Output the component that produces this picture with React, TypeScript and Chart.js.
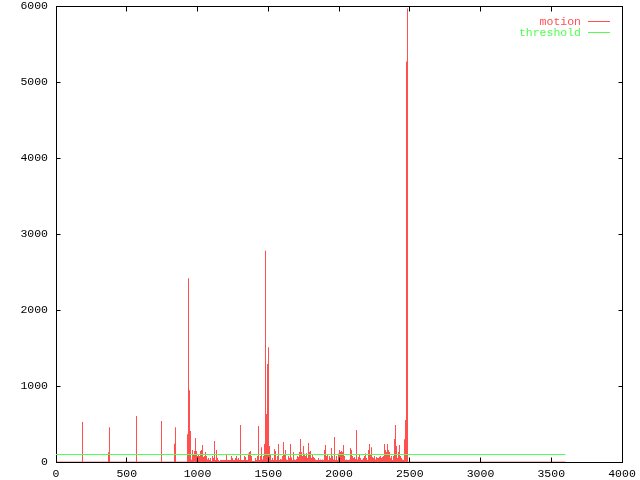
import React, { useEffect, useRef } from "react";
import { Chart, registerables } from "chart.js";

Chart.register(...registerables);

// ---- data ----
const frames = [
  187, 371, 378, 569, 746, 837, 845,
  929, 936, 943, 951, 958, 965, 972, 979, 986, 993,
  1000, 1007, 1014, 1021, 1028, 1035, 1042, 1049, 1057, 1064,
  1071, 1078, 1085, 1092, 1099, 1106, 1113, 1120, 1127, 1134,
  1141, 1148, 1155, 1163, 1170, 1177, 1184, 1191, 1198, 1205,
  1212, 1219, 1226, 1233, 1240, 1247, 1254, 1261, 1269, 1276,
  1283, 1290, 1297, 1304, 1311, 1318, 1325, 1332, 1339, 1346,
  1353, 1360, 1367, 1375, 1382, 1389, 1396, 1403, 1410, 1417,
  1424, 1431, 1438, 1445, 1452, 1459, 1466, 1473, 1481, 1488,
  1495, 1502, 1509, 1516, 1523, 1530, 1537, 1544, 1551, 1558,
  1565, 1572, 1579, 1587, 1594, 1601, 1608, 1615, 1622, 1629,
  1636, 1643, 1650, 1657, 1664, 1671, 1678, 1686, 1693, 1700,
  1707, 1714, 1721, 1728, 1735, 1742, 1749, 1756, 1763, 1770,
  1777, 1784, 1792, 1799, 1806, 1813, 1820, 1827, 1834, 1841,
  1848, 1855, 1862, 1869, 1876, 1883, 1890, 1898, 1905, 1912,
  1919, 1926, 1933, 1940, 1947, 1954, 1961, 1968, 1975, 1982,
  1989, 1996, 2004, 2011, 2018, 2025, 2032, 2039, 2046, 2053,
  2060, 2067, 2074, 2081, 2088, 2095, 2102, 2110, 2117, 2124,
  2131, 2138, 2145, 2152, 2159, 2166, 2173, 2180, 2187, 2194,
  2201, 2208, 2216, 2223, 2230, 2237, 2244, 2251, 2258, 2265,
  2272, 2279, 2286, 2293, 2300, 2307, 2314, 2322, 2329, 2336,
  2343, 2350, 2357, 2364, 2371, 2378, 2385, 2392, 2399, 2406,
  2413, 2420, 2428, 2435, 2442, 2449, 2456, 2463, 2470, 2477,
  2484,
];

const motion = [
  526, 130, 460, 605, 540, 240, 460,
  368, 2420, 947, 408, 30, 158, 92, 145, 316, 145,
  79, 92, 79, 145, 158, 224, 66, 79, 132, 79,
  35, 53, 26, 53, 13, 79, 53, 276, 26, 158,
  53, 26, 13, 26, 26, 26, 26, 26, 26, 92,
  26, 26, 26, 26, 79, 53, 26, 26, 53, 79,
  35, 53, 26, 487, 26, 26, 26, 79, 66, 26,
  26, 114, 132, 145, 79, 13, 13, 13, 53, 26,
  79, 474, 26, 79, 197, 35, 79, 237, 2780, 632,
  1290, 1510, 211, 92, 26, 53, 26, 171, 145, 26,
  79, 237, 26, 40, 35, 79, 263, 92, 158, 35,
  26, 79, 53, 237, 60, 26, 132, 35, 26, 40,
  79, 66, 132, 303, 132, 79, 211, 110, 79, 118,
  53, 250, 132, 145, 53, 92, 66, 53, 35, 26,
  26, 53, 26, 35, 26, 35, 26, 158, 224, 79,
  92, 26, 79, 53, 184, 79, 35, 329, 26, 79,
  26, 112, 158, 132, 145, 132, 224, 79, 26, 35,
  26, 26, 35, 184, 158, 79, 53, 66, 40, 421,
  35, 66, 92, 53, 26, 35, 53, 79, 114, 53,
  26, 158, 237, 92, 197, 66, 53, 79, 35, 66,
  53, 53, 70, 79, 53, 66, 79, 237, 158, 132,
  237, 158, 132, 53, 79, 26, 79, 303, 487, 211,
  53, 132, 224, 79, 53, 35, 26, 300, 553, 5270,
  5970,
];

const frameSpan = [0, 3600];
const thresholdLevel = 100;
const xTicks = [0, 500, 1000, 1500, 2000, 2500, 3000, 3500, 4000];
const yTicks = [0, 1000, 2000, 3000, 4000, 5000, 6000];
const seriesNames = ["motion", "threshold"];

const RED = "#ff5050";
const GREEN = "#50ff50";
const FONT = "'Liberation Mono', 'DejaVu Sans Mono', monospace";
const FONT_SIZE = 11.5;

const gnuplotFrame = {
  id: "gnuplotFrame",
  afterDatasetsUpdate(chart: any) {
    // snap 1px impulses onto the pixel grid so they render crisp like gnuplot
    chart.getSortedVisibleDatasetMetas().forEach((meta: any) => {
      if (meta.type !== "bar") return;
      meta.data.forEach((el: any) => {
        el.x = Math.floor(el.x) + 0.5;
      });
    });
  },
  beforeDatasetsDraw(chart: any) {
    const { ctx, chartArea } = chart;
    const l = Math.floor(chartArea.left) + 0.5;
    const r = Math.floor(chartArea.right) + 0.5;
    const t = Math.floor(chartArea.top) + 0.5;
    const b = Math.floor(chartArea.bottom) + 0.5;
    ctx.save();
    ctx.strokeStyle = "#000";
    ctx.lineWidth = 1;
    ctx.strokeRect(l, t, r - l, b - t);
    ctx.restore();
  },
  afterDatasetsDraw(chart: any) {
    const { ctx, chartArea, scales } = chart;
    const l = Math.floor(chartArea.left) + 0.5;
    const r = Math.floor(chartArea.right) + 0.5;
    const t = Math.floor(chartArea.top) + 0.5;
    const b = Math.floor(chartArea.bottom) + 0.5;
    ctx.save();
    ctx.strokeStyle = "#000";
    ctx.lineWidth = 1;
    ctx.beginPath();
    xTicks.forEach((v) => {
      const px = Math.round(scales.x.getPixelForValue(v) - 0.5) + 0.5;
      ctx.moveTo(px, b);
      ctx.lineTo(px, b - 5);
      ctx.moveTo(px, t);
      ctx.lineTo(px, t + 5);
    });
    yTicks.forEach((v) => {
      if (v === 0) return;
      const py = Math.floor(scales.y.getPixelForValue(v)) + 0.5;
      ctx.moveTo(l, py);
      ctx.lineTo(l + 4, py);
      ctx.moveTo(r, py);
      ctx.lineTo(r - 4, py);
    });
    ctx.stroke();
    ctx.restore();
  },
  afterDraw(chart: any) {
    const { ctx, chartArea } = chart;
    const colors = [RED, GREEN];
    ctx.save();
    ctx.font = `${FONT_SIZE}px ${FONT}`;
    ctx.textAlign = "right";
    ctx.textBaseline = "middle";
    seriesNames.forEach((name, i) => {
      const y = chartArea.top + 15.4 + i * 11;
      ctx.fillStyle = colors[i];
      ctx.fillText(name, chartArea.right - 41, y + 0.5);
      ctx.strokeStyle = colors[i];
      ctx.lineWidth = 1;
      ctx.beginPath();
      ctx.moveTo(chartArea.right - 34, Math.floor(y) + 0.5);
      ctx.lineTo(chartArea.right - 12, Math.floor(y) + 0.5);
      ctx.stroke();
    });
    ctx.restore();
  },
};

export default function App() {
  const ref = useRef<HTMLCanvasElement>(null);
  useEffect(() => {
    const canvas = ref.current!;
    const tickFont = { family: FONT, size: FONT_SIZE, lineHeight: 1 };
    const noPad = (s: any) => {
      s.paddingTop = 0;
      s.paddingBottom = 0;
      s.paddingLeft = 0;
      s.paddingRight = 0;
    };
    const chart = new Chart(canvas, {
      type: "bar",
      data: {
        datasets: [
          {
            type: "line",
            label: seriesNames[1],
            data: frameSpan.map((f) => ({ x: f, y: thresholdLevel })),
            borderColor: GREEN,
            borderWidth: 1,
            pointRadius: 0,
            order: 0,
          } as any,
          {
            type: "line",
            label: seriesNames[0] + "-base",
            data: frameSpan.map((f) => ({ x: f, y: 0 })),
            borderColor: RED,
            borderWidth: 1,
            pointRadius: 0,
            order: 1,
          } as any,
          {
            type: "bar",
            label: seriesNames[0],
            data: frames.map((f, i) => ({ x: f, y: motion[i] })),
            backgroundColor: RED,
            borderWidth: 0,
            barThickness: 1,
            inflateAmount: 0,
            grouped: false,
            order: 2,
          } as any,
        ],
      },
      options: {
        animation: false,
        responsive: false,
        devicePixelRatio: 1,
        layout: { padding: { left: 0, right: 18, top: 6.1, bottom: 0 } },
        plugins: { legend: { display: false }, tooltip: { enabled: false } },
        scales: {
          x: {
            type: "linear",
            min: 0,
            max: 4000,
            offset: false,
            grid: { display: false, drawTicks: false },
            border: { display: false },
            ticks: {
              stepSize: 500,
              autoSkip: false,
              maxRotation: 0,
              color: "#000",
              padding: 6.4,
              font: tickFont,
              callback: (v: any) => String(v),
            },
            afterFit: (s: any) => {
              s.height = 17.9;
              noPad(s);
            },
          },
          y: {
            type: "linear",
            min: 0,
            max: 6000,
            grid: { display: false, drawTicks: false },
            border: { display: false },
            ticks: {
              stepSize: 1000,
              color: "#000",
              padding: 8,
              font: tickFont,
              callback: (v: any) => String(v),
            },
            afterFit: (s: any) => {
              s.width = 56;
              noPad(s);
            },
          },
        },
      } as any,
      plugins: [gnuplotFrame],
    });
    return () => chart.destroy();
  }, []);
  return (
    <div style={{ position: "fixed", left: 0, top: 0, width: 640, height: 480, background: "#fff" }}>
      <canvas ref={ref} width={640} height={480} style={{ display: "block" }} />
    </div>
  );
}
